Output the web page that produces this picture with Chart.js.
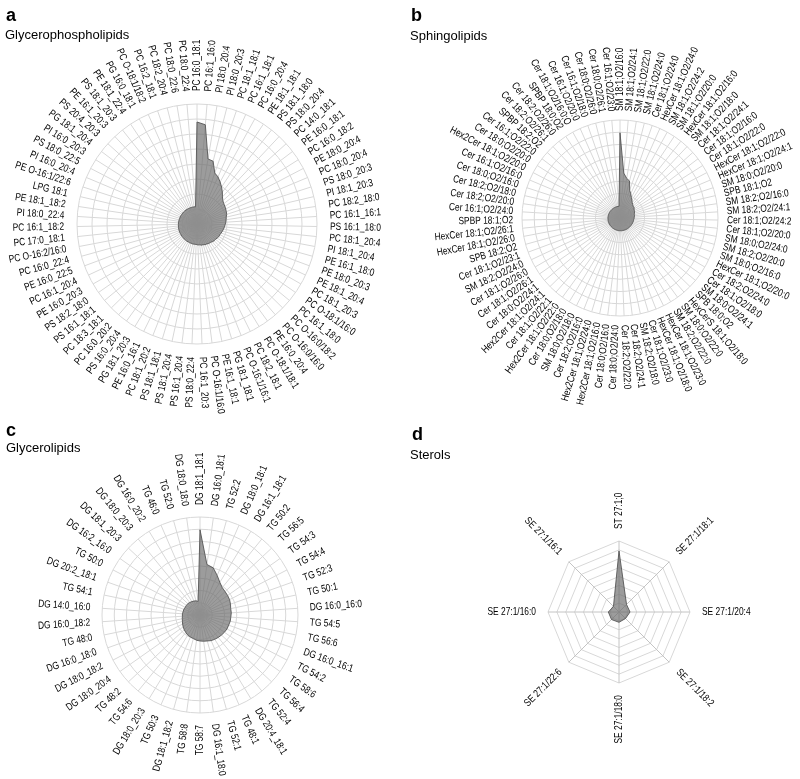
<!DOCTYPE html>
<html><head><meta charset="utf-8">
<script src="https://cdn.jsdelivr.net/npm/chart.js@4"></script>
<style>
html,body{margin:0;padding:0;background:#fff;width:800px;height:779px;overflow:hidden;position:relative;font-family:"Liberation Sans",Arial,sans-serif;color:#000;}
canvas{position:absolute;}
.lt{position:absolute;font-weight:bold;font-size:18px;line-height:18px;}
.st{position:absolute;font-size:13px;line-height:13px;}
</style></head><body>
<canvas id="ca" width="400" height="430" style="left:0;top:0"></canvas>
<canvas id="cb" width="400" height="430" style="left:400px;top:0"></canvas>
<canvas id="cc" width="400" height="349" style="left:0;top:430px"></canvas>
<canvas id="cd" width="400" height="349" style="left:400px;top:430px"></canvas>
<div class="lt" style="left:6px;top:6px">a</div>
<div class="st" style="left:5px;top:28px">Glycerophospholipids</div>
<div class="lt" style="left:411px;top:6px">b</div>
<div class="st" style="left:410px;top:29px">Sphingolipids</div>
<div class="lt" style="left:6px;top:421px">c</div>
<div class="st" style="left:6px;top:441px">Glycerolipids</div>
<div class="lt" style="left:412px;top:425px">d</div>
<div class="st" style="left:410px;top:448px">Sterols</div>
<script>
const aLabels = ["PC 16:0_18:1","PC 16:1_16:0","PI 18:0_20:4","PI 18:0_20:3","PC 18:1_18:1","PC 16:1_18:1","PC 16:0_20:4","PE 18:1_18:1","PS 18:1_18:0","PS 18:0_20:4","PC 14:0_18:1","PE 16:0_18:1","PC 16:0_18:2","PE 18:0_20:4","PC 18:0_20:4","PS 18:0_20:3","PI 18:1_20:3","PC 18:2_18:0","PC 16:1_16:1","PS 16:1_18:0","PC 18:1_20:4","PI 18:1_20:4","PE 16:1_18:0","PE 18:0_20:3","PE 18:1_20:4","PC 18:1_20:3","PC O-18:1/16:0","PC 16:1_18:0","PC O-16:0/18:2","PC O-16:0/16:0","PE 16:0_20:4","PC O-18:1/18:1","PC 18:2_18:1","PC O-16:1/16:1","PG 18:1_18:1","PE 16:1_18:1","PC O-16:1/16:0","PC 16:1_20:3","PS 18:0_22:4","PS 16:1_20:4","PS 18:1_20:4","PS 18:1_18:1","PC 18:1_20:2","PE 16:0_16:1","PG 18:1_20:3","PS 16:0_20:4","PC 16:0_20:2","PC 18:3_18:1","PS 16:1_18:1","PS 18:2_18:0","PE 16:0_20:3","PC 16:1_20:4","PE 16:0_22:5","PC 16:0_22:4","PC O-16:2/16:0","PC 17:0_18:1","PC 16:1_18:2","PI 18:0_22:4","PE 18:1_18:2","LPG 18:1","PE O-16:1/22:6","PI 16:0_20:4","PS 18:0_22:5","PI 16:0_20:3","PG 18:1_20:4","PS 20:4_20:3","PE 16:1_20:3","PS 18:1_20:3","PE 18:1_22:4","PG 16:0_18:1","PC O-18:1/18:2","PC 16:2_18:1","PC 18:2_20:4","PC 18:0_22:6","PC 18:0_22:4"];
const aValues = [85,83,55,54,45,43,40,37,34,31,29,28,27.5,27,26.5,26,25,24.5,24,23.5,23,22.5,22,21.5,21,21,20.5,20,20,19.5,19,19,18.5,18.5,18,18,17.5,17.5,17,17,17,16.8,16.8,16.6,16.6,16.5,16.4,16.3,16.2,16.1,16,16,15.9,15.8,15.7,15.6,15.5,15.5,15.4,15.3,15.2,15.2,15.1,15,15,15,14.9,14.8,14.8,14.7,14.6,14.6,14.5,14.5,14.4];

const bLabels = ["SM 18:1;O2/16:0","SM 18:1;O2/24:1","SM 18:1;O2/22:0","SM 18:1;O2/24:0","Cer 18:1;O2/24:0","HexCer 18:1;O2/24:0","SM 18:1;O2/24:2","SM 18:1;O2/20:0","HexCer 18:1;O2/16:0","SM 18:1;O2/18:0","Cer 18:1;O2/24:1","Cer 18:1;O2/16:0","Cer 18:1;O2/22:0","HexCer 18:1;O2/22:0","HexCer 18:1;O2/24:1","SM 18:0;O2/20:0","SPB 18:1;O2","SM 18:2;O2/16:0","SM 18:2;O2/24:1","Cer 18:1;O2/24:2","Cer 18:1;O2/20:0","SM 18:0;O2/24:0","SM 18:2;O2/20:0","SM 18:0;O2/16:0","HexCer 18:1;O2/20:0","Cer 18:2;O2/24:0","Cer 18:1;O2/18:0","SM 18:0;O2/24:1","SPB 18:0;O2","HexCerS 18:1;O2/18:0","SM 18:0;O2/22:0","SM 18:2;O2/22:0","HexCer 18:1;O2/23:0","HexCer 18:1;O2/18:0","Cer 18:1;O2/23:0","SM 18:2;O2/18:0","Cer 18:2;O2/24:1","Cer 18:2;O2/22:0","Cer 18:0;O2/24:0","Cer 18:0;O2/16:0","Hex2Cer 18:1;O2/16:0","Hex2Cer 18:1;O2/24:0","Cer 18:2;O2/16:0","SM 18:0;O2/18:0","Cer 18:0;O2/18:0","Hex2Cer 18:1;O2/22:0","Cer 18:1;O2/22:1","Hex2Cer 18:1;O2/24:1","Cer 18:0;O2/24:1","Cer 18:1;O2/26:1","Cer 18:1;O2/26:0","SM 18:2;O2/24:0","Cer 18:1;O2/23:1","SPB 18:2;O2","HexCer 18:1;O2/26:0","HexCer 18:1;O2/26:1","SPBP 18:1;O2","Cer 16:1;O2/24:0","Cer 18:2;O2/20:0","Cer 18:2;O2/18:0","Cer 18:0;O2/16:0","Cer 16:1;O2/16:0","Hex2Cer 18:1;O2/20:0","Cer 18:0;O2/20:0","Cer 16:1;O2/22:0","SPBP 18:2;O2","Cer 18:2;O2/26:1","Cer 18:2;O2/26:0","SPBP 18:0;O2","Cer 18:1;O2/16:0;O","Cer 16:1;O2/20:0","Cer 16:1;O2/18:0","Cer 18:0;O2/26:0","Cer 18:0;O2/26:1","Cer 16:1;O2/23:0"];
const bValues = [87,46,41,39,30,27,24,22,20,19,18,18,17,16.5,16,15.5,15,15,14.5,14.5,14,14,14,13.8,13.8,13.6,13.6,13.5,13.5,13.4,13.4,13.3,13.3,13.2,13.2,13.1,13.1,13,13,13,12.9,12.9,12.8,12.8,12.7,12.7,12.6,12.6,12.6,12.5,12.5,12.5,12.4,12.4,12.4,12.3,12.3,12.3,12.2,12.2,12.2,12.1,12.1,12.1,12,12,12,12,12,12,12,12,12,12,12];

const cLabels = ["DG 18:1_18:1","DG 16:0_18:1","TG 52:2","DG 18:0_18:1","DG 16:1_18:1","TG 50:2","TG 56:5","TG 54:3","TG 54:4","TG 52:3","TG 50:1","DG 16:0_16:0","TG 54:5","TG 56:6","DG 16:0_16:1","TG 54:2","TG 58:6","TG 56:4","TG 52:4","DG 20:4_18:1","TG 48:1","TG 52:1","DG 16:1_18:0","TG 58:7","TG 58:8","DG 18:1_18:2","TG 50:3","DG 18:0_20:3","TG 54:6","TG 48:2","DG 18:0_20:4","DG 18:0_18:2","DG 16:0_18:0","TG 48:0","DG 16:0_18:2","DG 14:0_16:0","TG 54:1","DG 20:2_18:1","TG 50:0","DG 16:2_16:0","DG 18:1_20:3","DG 18:0_20:3","DG 16:0_20:2","TG 46:0","TG 52:0","DG 18:0_18:0"];
const cValues = [87,52,50,44,39,36,35,34.5,34,33,32,32,31.5,31.5,31,31,30.5,30,29.5,29,28.5,27.5,27,26.5,26,25,24.5,24,23,22,21,20,19,18.5,18,18,17.5,17.5,17,17,17,16.5,16,15.5,15,14];

const dLabels = ["ST 27:1;0","SE 27:1/18:1","SE 27:1/20:4","SE 27:1/18:2","SE 27:1/18:0","SE 27:1/22:6","SE 27:1/16:0","SE 27:1/16:1"];
const dValues = [86,15,15.5,13,14.5,15,15,11];

const radialLabels = {
  id: 'radialLabels',
  afterDraw(chart, args, opts) {
    const scale = chart.scales.r;
    const ctx = chart.ctx;
    const dist = scale.drawingArea + opts.gap;
    ctx.save();
    ctx.font = opts.font;
    ctx.fillStyle = opts.color;
    ctx.textBaseline = 'middle';
    chart.data.labels.forEach((lab, i) => {
      const p = scale.getPointPosition(i, dist);
      const ang = scale.getIndexAngle(i);
      ctx.save();
      ctx.translate(p.x, p.y);
      if (ang < Math.PI - 1e-6) { ctx.rotate(ang - Math.PI / 2); ctx.textAlign = 'left'; }
      else { ctx.rotate(ang + Math.PI / 2); ctx.textAlign = 'right'; }
      ctx.scale(opts.squeeze, 1);
      ctx.fillText(lab, 0, 0);
      ctx.restore();
    });
    ctx.restore();
  }
};

function makeRadar(id, labels, values, cfg) {
  return new Chart(document.getElementById(id), {
    type: 'radar',
    data: { labels: labels, datasets: [{ data: values, backgroundColor: 'rgba(105,105,105,0.66)', borderColor: 'rgba(85,85,85,0.9)', borderWidth: 1, pointRadius: 0, pointHoverRadius: 0, fill: 'origin' }] },
    options: {
      responsive: false, animation: false, devicePixelRatio: 1,
      layout: { padding: cfg.padding },
      plugins: { legend: { display: false }, tooltip: { enabled: false },
        radialLabels: { gap: cfg.gap, squeeze: 0.8, font: '10.5px "Liberation Sans", Arial, sans-serif', color: '#000' } },
      scales: { r: { min: 0, max: 100,
        ticks: { display: false, stepSize: 100 / cfg.rings },
        grid: { circular: cfg.circular, color: '#d8d8d8', lineWidth: 1 },
        angleLines: { display: true, color: cfg.spoke, lineWidth: 1 },
        pointLabels: { display: false } } }
    },
    plugins: [radialLabels]
  });
}

makeRadar('ca', aLabels, aValues, { padding: { left: 77, right: 83, top: 104, bottom: 86 }, gap: 13, rings: 8, circular: true, spoke: '#d8d8d8' });
makeRadar('cb', bLabels, bValues, { padding: { left: 122, right: 82, top: 120, bottom: 114 }, gap: 9, rings: 8, circular: true, spoke: '#d8d8d8' });
makeRadar('cc', cLabels, cValues, { padding: { left: 102, right: 102, top: 87, bottom: 66 }, gap: 12, rings: 8, circular: true, spoke: '#d8d8d8' });
makeRadar('cd', dLabels, dValues, { padding: { left: 148, right: 110, top: 111, bottom: 96 }, gap: 12, rings: 8, circular: false, spoke: '#c4c4c4' });
</script>
</body></html>
